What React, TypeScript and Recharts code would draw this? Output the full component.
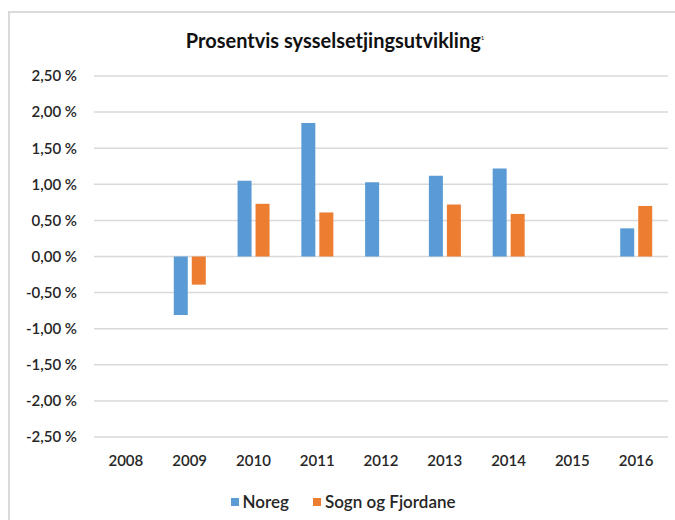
import { BarChart, Bar, XAxis, YAxis, CartesianGrid, Legend } from 'recharts';

const YEARS = ['2008', '2009', '2010', '2011', '2012', '2013', '2014', '2015', '2016'];
const NOREG = [null, -0.81, 1.05, 1.85, 1.03, 1.12, 1.22, null, 0.39];
const SOGN = [null, -0.39, 0.73, 0.61, null, 0.72, 0.59, null, 0.7];
const Y_TICKS = [-2.5, -2, -1.5, -1, -0.5, 0, 0.5, 1, 1.5, 2, 2.5];

const SERIES = [
  { key: 'noreg', name: 'Noreg', color: '#5B9BD5' },
  { key: 'sogn', name: 'Sogn og Fjordane', color: '#ED7D31' },
];

const data = YEARS.map((year, i) => ({ year, noreg: NOREG[i], sogn: SOGN[i] }));

const FONT = 'Lato, "Liberation Sans", sans-serif';

function fmtPct(v: number) {
  return `${v.toFixed(2).replace('.', ',')} %`;
}

function LegendBox() {
  return (
    <div
      style={{
        display: 'flex',
        justifyContent: 'center',
        alignItems: 'center',
        gap: 24,
        fontFamily: FONT,
        fontSize: 17,
        fontWeight: 600,
        color: '#262626',
        paddingTop: 4,
        paddingLeft: 18,
      }}
    >
      {SERIES.map((s) => (
        <span key={s.key} style={{ display: 'flex', alignItems: 'center', gap: 4 }}>
          <span style={{ width: 8, height: 8, background: s.color, display: 'inline-block' }} />
          {s.name}
        </span>
      ))}
    </div>
  );
}

export default function App() {
  return (
    <div
      style={{
        position: 'absolute',
        left: 0,
        top: 0,
        width: 675,
        height: 520,
        background: '#fff',
        overflow: 'hidden',
      }}
    >
      <div
        style={{
          position: 'absolute',
          left: 8,
          top: 11,
          right: 0,
          bottom: 0,
          borderTop: '2px solid #d9d9d9',
          borderLeft: '2px solid #d9d9d9',
        }}
      />
      <div
        style={{
          position: 'absolute',
          top: 28,
          left: 0,
          width: 670,
          textAlign: 'center',
          fontFamily: FONT,
          fontWeight: 700,
          fontSize: 20,
          color: '#111',
        }}
      >
        Prosentvis sysselsetjingsutvikling<sup style={{ fontSize: 6, fontWeight: 400 }}>1</sup>
      </div>
      <BarChart
        width={675}
        height={520}
        data={data}
        margin={{ top: 76, right: 7, left: 0, bottom: 1 }}
        barSize={14}
        barGap={4}
        style={{ position: 'absolute', left: 0, top: 0 }}
      >
        <CartesianGrid vertical={false} stroke="#d9d9d9" strokeWidth={1.5} />
        <XAxis
          dataKey="year"
          height={50}
          axisLine={false}
          tickLine={false}
          tickSize={0}
          tickMargin={18}
          tick={{ fontFamily: FONT, fontSize: 15, fontWeight: 600, fill: '#262626' }}
        />
        <YAxis
          width={94}
          domain={[-2.5, 2.5]}
          ticks={Y_TICKS}
          axisLine={false}
          tickLine={false}
          tickSize={0}
          tickMargin={17}
          tickFormatter={fmtPct}
          tick={{ fontFamily: FONT, fontSize: 15, fontWeight: 600, fill: '#262626' }}
        />
        <Legend verticalAlign="bottom" height={32} content={() => <LegendBox />} />
        {SERIES.map((s) => (
          <Bar key={s.key} dataKey={s.key} name={s.name} fill={s.color} isAnimationActive={false} />
        ))}
      </BarChart>
    </div>
  );
}
